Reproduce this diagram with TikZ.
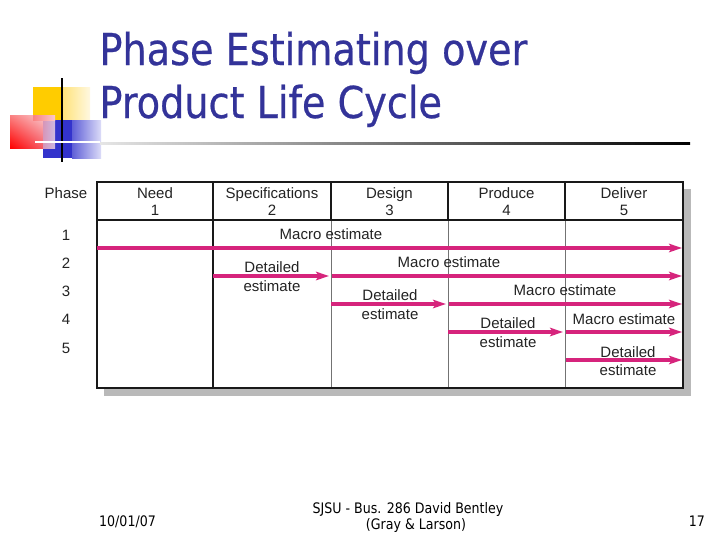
\documentclass[tikz,border=0pt]{standalone}
\usepackage{fontspec}
\setmainfont{Liberation Sans}
\newfontfamily\titlefont[FakeStretch=0.87,FakeBold=0.5]{DejaVu Sans}
\newfontfamily\footfont[FakeStretch=0.87]{DejaVu Sans}
\usetikzlibrary{arrows.meta,shadings}
\definecolor{titleblue}{RGB}{51,51,153}
\definecolor{mag}{RGB}{214,36,124}
\definecolor{txt}{RGB}{35,35,35}
\definecolor{shadowgray}{RGB}{185,185,185}
\definecolor{ysolid}{RGB}{255,204,0}
\definecolor{ymid}{RGB}{255,226,120}
\definecolor{ylight}{RGB}{255,248,225}
\definecolor{bsolid}{RGB}{51,51,204}
\definecolor{bmid}{RGB}{95,95,215}
\definecolor{blight}{RGB}{220,220,248}
\definecolor{rlight}{RGB}{250,200,205}
\definecolor{rmidA}{RGB}{250,130,130}
\definecolor{rmidB}{RGB}{245,90,100}
\definecolor{lavA}{RGB}{215,150,185}
\definecolor{lavB}{RGB}{205,185,225}
\begin{document}
\begin{tikzpicture}[x=1pt,y=-1pt,
  arr/.style={draw=mag, line width=3.2pt, -{Stealth[length=13pt,width=8.5pt,inset=3pt]}},
  lbl/.style={inner sep=0pt, anchor=base, text=txt, font=\fontsize{15}{18}\selectfont},
  ttl/.style={inner sep=0pt, anchor=base west, text=titleblue, font=\titlefont\fontsize{43.9}{50}\selectfont},
  foot/.style={inner sep=0pt, text=black, font=\footfont\fontsize{14.5}{17}\selectfont},
  border/.style={draw=black!90, line width=2.2pt},
  thin/.style={draw=black!55, line width=0.8pt}]
\useasboundingbox (0,0) rectangle (728,546);
\fill[white] (0,0) rectangle (728,546);

% decoration squares
\fill[ysolid] (33,87) rectangle (62,120);
\shade[left color=ymid, right color=ylight] (62,87) rectangle (90,120);
\fill[bsolid] (43,120) rectangle (72,158);
\shade[left color=bmid, right color=blight] (72,120) rectangle (101,158);
\shade[lower left=red, upper right=rlight, upper left=rmidA, lower right=rmidB] (10,115) rectangle (43,148);
\shade[left color=lavA, right color=lavB] (43,120) rectangle (55,148);
\shade[left color=rmidA, right color=rlight] (33,115) rectangle (55,120);
\draw[black, line width=2pt] (62,78) -- (62,162);
\draw[white, line width=2pt] (35,142) -- (100,142);
\shade[left color=black!10, right color=black] (100,142) rectangle (690,144.4);

% title
\node[ttl] (t1) at (99.3,65) {Phase Estimating over};
\node[ttl] (t2) at (99.3,118) {Product Life Cycle};

% table shadow and frame
\fill[shadowgray] (104,189) rectangle (691,396);
\fill[white] (97,182) rectangle (683,388);
\draw[thin] (331,220) -- (331,388);
\draw[thin] (448,220) -- (448,388);
\draw[thin] (565,220) -- (565,388);
\draw[border] (331,182) -- (331,220);
\draw[border] (448,182) -- (448,220);
\draw[border] (565,182) -- (565,220);
\draw[border] (213,182) -- (213,388);
\draw[border] (97,220) -- (683,220);
\draw[border] (97,182) rectangle (683,388);

% header
\node[lbl] (ph) at (66,198.5) {Phase};
\node[lbl] (h1) at (155,198.5) {Need};
\node[lbl] (h1n) at (155,215.5) {1};
\node[lbl] (h2) at (272,198.5) {Specifications};
\node[lbl] (h2n) at (272,215.5) {2};
\node[lbl] (h3) at (389.5,198.5) {Design};
\node[lbl] (h3n) at (389.5,215.5) {3};
\node[lbl] (h4) at (506.5,198.5) {Produce};
\node[lbl] (h4n) at (506.5,215.5) {4};
\node[lbl] (h5) at (624,198.5) {Deliver};
\node[lbl] (h5n) at (624,215.5) {5};

% phase numbers
\node[lbl] (p1) at (66,240.5) {1};
\node[lbl] (p2) at (66,268.5) {2};
\node[lbl] (p3) at (66,296.5) {3};
\node[lbl] (p4) at (66,324.5) {4};
\node[lbl] (p5) at (66,353.5) {5};

% labels
\node[lbl] (m1) at (331,239.5) {Macro estimate};
\node[lbl] (m2) at (449,267.5) {Macro estimate};
\node[lbl] (m3) at (565,295.5) {Macro estimate};
\node[lbl] (m4) at (624,324.5) {Macro estimate};
\node[lbl] (d2a) at (272,272) {Detailed};
\node[lbl] (d2b) at (272,291) {estimate};
\node[lbl] (d3a) at (390,300) {Detailed};
\node[lbl] (d3b) at (390,319) {estimate};
\node[lbl] (d4a) at (508,328) {Detailed};
\node[lbl] (d4b) at (508,347) {estimate};
\node[lbl] (d5a) at (628,357) {Detailed};
\node[lbl] (d5b) at (628,375) {estimate};

% arrow end points
\coordinate (a1s) at (97,248);   \coordinate (a1e) at (682,248);
\coordinate (a2s) at (213,276);  \coordinate (a2e) at (329,276);
\coordinate (a2ms) at (332,276); \coordinate (a2me) at (682,276);
\coordinate (a3s) at (331,304);  \coordinate (a3e) at (446,304);
\coordinate (a3ms) at (449,304); \coordinate (a3me) at (682,304);
\coordinate (a4s) at (448,332);  \coordinate (a4e) at (563,332);
\coordinate (a4ms) at (566,332); \coordinate (a4me) at (682,332);
\coordinate (a5s) at (566,360);  \coordinate (a5e) at (682,360);

\draw[arr] (a1s) -- (a1e);
\draw[arr] (a2s) -- (a2e);
\draw[arr] (a2ms) -- (a2me);
\draw[arr] (a3s) -- (a3e);
\draw[arr] (a3ms) -- (a3me);
\draw[arr] (a4s) -- (a4e);
\draw[arr] (a4ms) -- (a4me);
\draw[arr] (a5s) -- (a5e);

% footer
\node[foot, anchor=base west] (date) at (99,526) {10/01/07};
\node[foot, anchor=base] (f1) at (408,513) {SJSU - Bus. 286 David Bentley};
\node[foot, anchor=base] (f2) at (416,529) {(Gray \& Larson)};
\node[foot, anchor=base east] (pg) at (705,526) {17};
\end{tikzpicture}
\end{document}
